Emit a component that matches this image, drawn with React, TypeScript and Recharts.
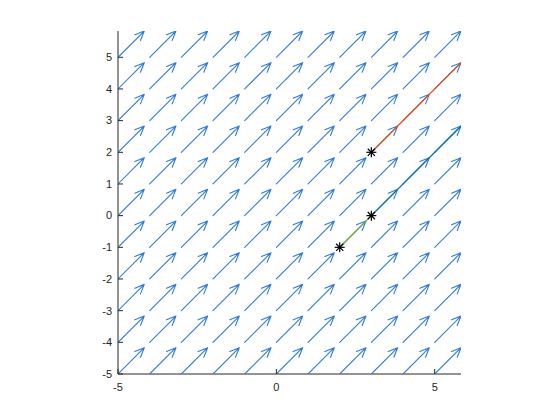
import React from 'react';
import { ComposedChart, XAxis, YAxis, Scatter } from 'recharts';

// grid of arrow tails
const gridX = [-5, -4, -3, -2, -1, 0, 1, 2, 3, 4, 5];
const gridY = [-5, -4, -3, -2, -1, 0, 1, 2, 3, 4, 5];
// vector components (same at every grid point)
const vecU = 0.83;
const vecV = 0.83;

const xTicks = [-5, 0, 5];
const yTicks = [-5, -4, -3, -2, -1, 0, 1, 2, 3, 4, 5];
const axisMin = -5;
const axisMax = 5.83;

// trajectory segments
const segments = [
  { from: { x: 2, y: -1 }, to: { x: 3, y: 0 }, color: '#77AC30' },
  { from: { x: 3, y: 0 }, to: { x: 6, y: 3 }, color: '#0072BD' },
  { from: { x: 3, y: 2 }, to: { x: 6, y: 5 }, color: '#D95319' },
];

const markers = [
  { x: 2, y: -1 },
  { x: 3, y: 0 },
  { x: 3, y: 2 },
];

const ARROW = '#2f7bdc';
const AXIS = '#262626';
const FONT = '"Liberation Sans", Arial, sans-serif';

// each arrow: tail -> tip -> barb -> tip -> barb
const arrows = gridX.flatMap((x) =>
  gridY.map((y) => {
    const tx = x + vecU;
    const ty = y + vecV;
    return [
      { x, y },
      { x: tx, y: ty },
      { x: tx - 0.3, y: ty - 0.12 },
      { x: tx, y: ty },
      { x: tx - 0.12, y: ty - 0.3 },
    ];
  })
);

const NoDot = () => <g />;

const LeftTick = (p: any) => (
  <g>
    <line x1={p.x} y1={p.y} x2={p.x + 5} y2={p.y} stroke={AXIS} />
    <text x={p.x - 6} y={p.y} dy="0.35em" textAnchor="end" fontSize={11} fontFamily={FONT} fill={AXIS}>
      {p.payload.value}
    </text>
  </g>
);

const BottomTick = (p: any) => (
  <g>
    <line x1={p.x} y1={p.y} x2={p.x} y2={p.y - 5} stroke={AXIS} />
    <text x={p.x} y={p.y + 9} dy="0.71em" textAnchor="middle" fontSize={11} fontFamily={FONT} fill={AXIS}>
      {p.payload.value}
    </text>
  </g>
);

const TopTick = (p: any) => <line x1={p.x} y1={p.y} x2={p.x} y2={p.y + 5} stroke={AXIS} />;
const RightTick = (p: any) => <line x1={p.x} y1={p.y} x2={p.x - 5} y2={p.y} stroke={AXIS} />;

const Asterisk = (p: any) => {
  const { cx, cy } = p;
  const r = 5;
  const d = 3.6;
  return (
    <g stroke="#000" strokeWidth={1.2}>
      <line x1={cx - r} y1={cy} x2={cx + r} y2={cy} />
      <line x1={cx} y1={cy - r} x2={cx} y2={cy + r} />
      <line x1={cx - d} y1={cy - d} x2={cx + d} y2={cy + d} />
      <line x1={cx - d} y1={cy + d} x2={cx + d} y2={cy - d} />
    </g>
  );
};

export default function App() {
  return (
    <div style={{ position: 'absolute', left: 0, top: 0, width: 560, height: 420, background: '#fff' }}>
      <ComposedChart width={560} height={420} margin={{ top: 31, right: 99, left: 0, bottom: 0 }}>
        <XAxis
          type="number"
          dataKey="x"
          domain={[axisMin, axisMax]}
          ticks={xTicks}
          allowDataOverflow
          height={46}
          tickSize={0}
          tickMargin={0}
          stroke={AXIS}
          tick={<BottomTick />}
        />
        <XAxis
          xAxisId="t"
          orientation="top"
          type="number"
          domain={[axisMin, axisMax]}
          ticks={xTicks}
          allowDataOverflow
          height={0}
          tickSize={0}
          tickMargin={0}
          stroke={AXIS}
          tick={<TopTick />}
        />
        <YAxis
          type="number"
          dataKey="y"
          domain={[axisMin, axisMax]}
          ticks={yTicks}
          allowDataOverflow
          width={118}
          tickSize={0}
          tickMargin={0}
          stroke={AXIS}
          tick={<LeftTick />}
        />
        <YAxis
          yAxisId="r"
          orientation="right"
          type="number"
          domain={[axisMin, axisMax]}
          ticks={yTicks}
          allowDataOverflow
          width={0}
          tickSize={0}
          tickMargin={0}
          stroke={AXIS}
          tick={<RightTick />}
        />
        {arrows.map((pts, i) => (
          <Scatter
            key={'a' + i}
            data={pts}
            fill={ARROW}
            line={{ stroke: ARROW, strokeWidth: 1.1, strokeLinecap: 'round', strokeLinejoin: 'round' }}
            shape={<NoDot />}
            isAnimationActive={false}
          />
        ))}
        {segments.map((s, i) => (
          <Scatter
            key={'s' + i}
            data={[s.from, s.to]}
            fill={s.color}
            line={{ stroke: s.color, strokeWidth: 1.3 }}
            shape={<NoDot />}
            isAnimationActive={false}
          />
        ))}
        <Scatter data={markers} shape={<Asterisk />} isAnimationActive={false} />
      </ComposedChart>
    </div>
  );
}
